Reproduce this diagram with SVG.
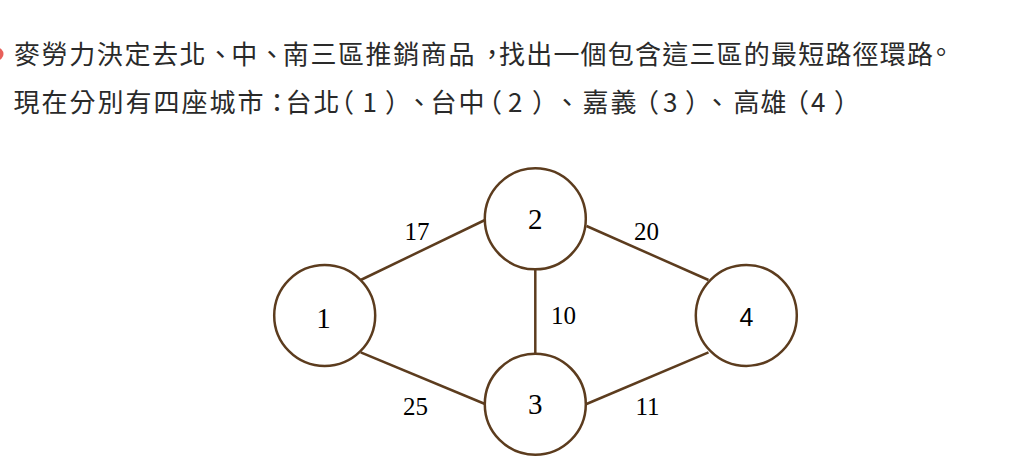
<svg xmlns="http://www.w3.org/2000/svg" width="1024" height="471" viewBox="0 0 1024 471">
<style>
.cjk{font-family:"Noto Sans CJK TC","Noto Sans CJK JP",sans-serif;font-size:26px;fill:#2a2a2a}
.node circle{fill:#fff;stroke:#5c3c1e;stroke-width:2.5}
.lbl{font-family:"Liberation Serif",serif;font-size:29px;fill:#000;text-anchor:middle}
.lbls{font-family:"Liberation Sans",sans-serif;font-size:25px;fill:#000;text-anchor:middle}
.w{font-family:"Liberation Serif",serif;font-size:25px;fill:#000;text-anchor:middle}
#edges line{stroke:#5c3c1e;stroke-width:2.5}
</style>
<rect width="1024" height="471" fill="#fff"/>
<circle cx="-3" cy="54" r="6.5" fill="#e8605a"/>
<text class="cjk" lang="zh-TW" x="14 41.6 69.2 96.8 124.4 152 179.6 207.2 231.2 258.8 282.8 310.4 338 365.6 393.2 420.8 448.4 479 499 526.2 553.4 580.6 607.8 635 662.2 689.4 716.6 743.8 771 798.2 825.4 852.6 879.8 907 928" y="64 64 64 64 64 64 64 64 64 64 64 64 64 64 64 64 64 64 64 64 64 64 64 64 64 64 64 64 64 64 64 64 64 64 62">麥勞力決定去北、中、南三區推銷商品，找出一個包含這三區的最短路徑環路。</text>
<text class="cjk" lang="zh-TW" y="112" x="13.5 41.5 69.5 97.5 125.5 153.5 181.5 209.5 237.5 264 285.5 313.5 328 362.5 385 406 430.5 458.5 476 508 532 554 582.5 610.5 633 663 685 704 733.5 760.5 783 811 834">現在分別有四座城市：台北（1）、台中（2）、嘉義（3）、高雄（4）</text>
<g id="edges">
<line x1="360.7" y1="280" x2="485" y2="220"/>
<line x1="586.5" y1="226" x2="708.5" y2="280"/>
<line x1="535.3" y1="269.3" x2="535.3" y2="353.7"/>
<line x1="360.7" y1="352.3" x2="485" y2="404"/>
<line x1="586.5" y1="404" x2="708.5" y2="352.3"/>
<text class="w" x="417" y="240">17</text>
<text class="w" x="646.5" y="240">20</text>
<text class="w" x="563.6" y="324">10</text>
<text class="w" x="415.6" y="415">25</text>
<text class="w" x="647.5" y="415">11</text>
</g>
<g id="node1" class="node"><circle cx="324.7" cy="315.5" r="50.5"/><text class="lbl" x="323.5" y="327.5">1</text></g>
<g id="node2" class="node"><circle cx="535.3" cy="218.8" r="50.5"/><text class="lbl" x="535.3" y="229">2</text></g>
<g id="node3" class="node"><circle cx="535.3" cy="404.2" r="50.5"/><text class="lbl" x="535.3" y="414.3">3</text></g>
<g id="node4" class="node"><circle cx="746.3" cy="315.5" r="50.5"/><text class="lbls" x="746.5" y="326">4</text></g>
</svg>
